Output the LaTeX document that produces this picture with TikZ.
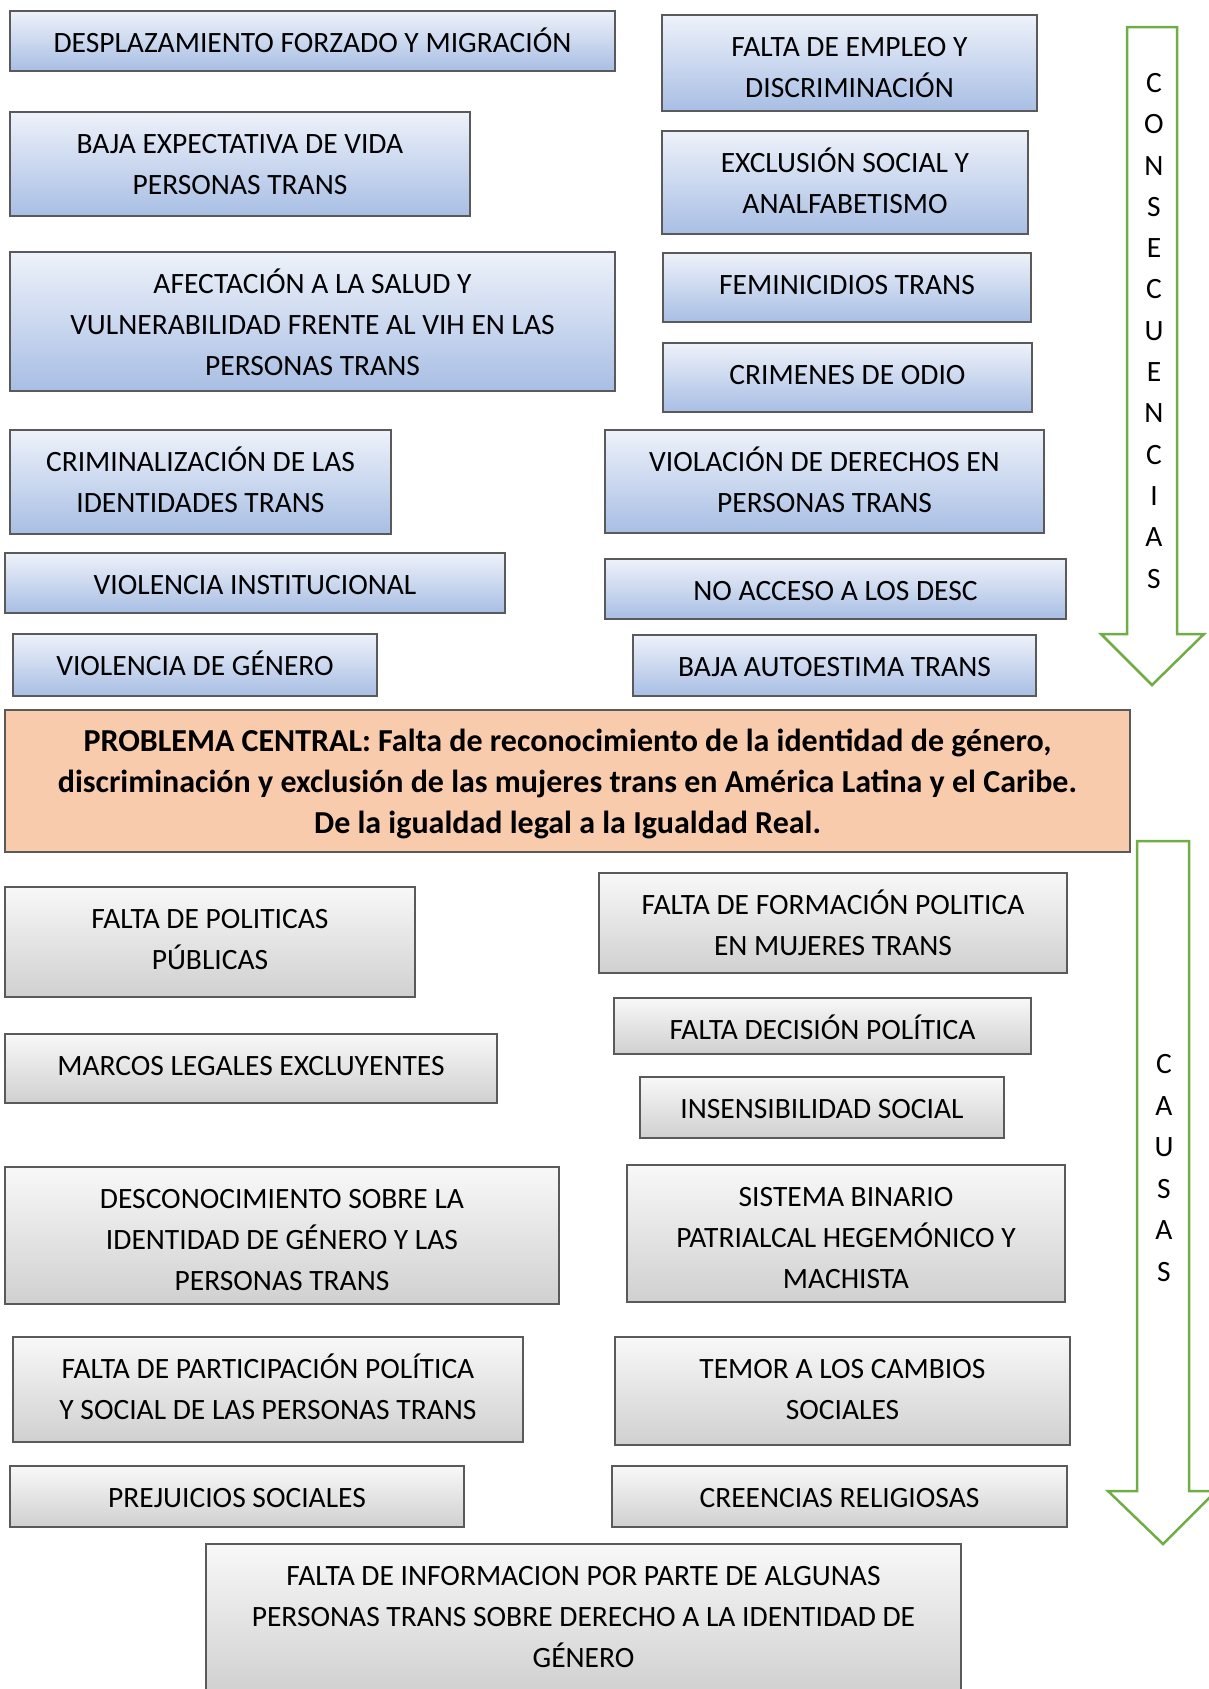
\documentclass[tikz,border=0pt]{standalone}
\usepackage{fontspec}
\setmainfont{Carlito}
\definecolor{boxline}{HTML}{5A5A5A}
\definecolor{bluetop}{HTML}{EEF2FA}
\definecolor{bluebot}{HTML}{A8BEE4}
\definecolor{graytop}{HTML}{F8F8F8}
\definecolor{graybot}{HTML}{D0D0D0}
\definecolor{salmon}{HTML}{F8CBAD}
\definecolor{arrowgreen}{HTML}{70AD47}
\tikzset{
  % width, height, lines: text sits at the top of each box, as in a text box
  caja/.style n args={3}{minimum width=#1, minimum height=#2,
    text height=30pt+41pt*(#3-1), text depth=#2pt-53pt-41pt*(#3-1)},
  cons/.style={draw=boxline, line width=1.2pt, top color=bluetop, bottom color=bluebot,
    align=center, inner sep=0pt, font=\fontsize{29.5}{41}\selectfont},
  causa/.style={cons, top color=graytop, bottom color=graybot},
  central/.style={draw=boxline, line width=1.2pt, fill=salmon, align=center, inner sep=0pt,
    font=\fontsize{32}{41}\selectfont\bfseries},
  letra/.style={font=\fontsize{29.5}{30}\selectfont, inner sep=0pt}
}
\begin{document}
\begin{tikzpicture}[x=1pt, y=-1pt]
\useasboundingbox (0,0) rectangle (1208,1689);

% consecuencias
\node[cons, caja={605}{60}{1}] (desplaz) at (312.5,41) {DESPLAZAMIENTO FORZADO Y MIGRACIÓN};
\node[cons, caja={460}{104}{2}] (expect) at (240,164) {BAJA EXPECTATIVA DE VIDA\\PERSONAS TRANS};
\node[cons, caja={605}{139}{3}] (salud) at (312.5,321.5) {AFECTACIÓN A LA SALUD Y\\VULNERABILIDAD FRENTE AL VIH EN LAS\\PERSONAS TRANS};
\node[cons, caja={381}{104}{2}] (crimin) at (200.5,482) {CRIMINALIZACIÓN DE LAS\\IDENTIDADES TRANS};
\node[cons, caja={500}{60}{1}] (instit) at (255,583) {VIOLENCIA INSTITUCIONAL};
\node[cons, caja={364}{62}{1}] (genero) at (195,665) {VIOLENCIA DE GÉNERO};

\node[cons, caja={375}{96}{2}] (empleo) at (849.5,63) {FALTA DE EMPLEO Y\\DISCRIMINACIÓN};
\node[cons, caja={366}{103}{2}] (exclus) at (845,182.5) {EXCLUSIÓN SOCIAL Y\\ANALFABETISMO};
\node[cons, caja={368}{69}{1}] (femin) at (847,287.5) {FEMINICIDIOS TRANS};
\node[cons, caja={369}{69}{1}] (odio) at (847.5,377.5) {CRIMENES DE ODIO};
\node[cons, caja={439}{103}{2}] (derechos) at (824.5,481.5) {VIOLACIÓN DE DERECHOS EN\\PERSONAS TRANS};
\node[cons, caja={461}{60}{1}] (desc) at (835.5,589) {NO ACCESO A LOS DESC};
\node[cons, caja={403}{61}{1}] (autoest) at (834.5,665.5) {BAJA AUTOESTIMA TRANS};

% problema central
\node[central, caja={1125}{142}{3}] (problema) at (567.5,781) {PROBLEMA CENTRAL: Falta de reconocimiento de la identidad de género,\\discriminación y exclusión de las mujeres trans en América Latina y el Caribe.\\De la igualdad legal a la Igualdad Real.};

% causas
\node[causa, caja={410}{110}{2}] (politicas) at (210,942) {FALTA DE POLITICAS\\PÚBLICAS};
\node[causa, caja={492}{69}{1}] (marcos) at (251,1068.5) {MARCOS LEGALES EXCLUYENTES};
\node[causa, caja={554}{137}{3}] (descon) at (282,1235.5) {DESCONOCIMIENTO SOBRE LA\\IDENTIDAD DE GÉNERO Y LAS\\PERSONAS TRANS};
\node[causa, caja={510}{105}{2}] (particip) at (268,1389.5) {FALTA DE PARTICIPACIÓN POLÍTICA\\Y SOCIAL DE LAS PERSONAS TRANS};
\node[causa, caja={454}{61}{1}] (prejuicios) at (237,1496.5) {PREJUICIOS SOCIALES};

\node[causa, caja={468}{100}{2}] (formacion) at (833,923) {FALTA DE FORMACIÓN POLITICA\\EN MUJERES TRANS};
\node[causa, caja={417}{56}{1}] (decision) at (822.5,1026) {FALTA DECISIÓN POLÍTICA};
\node[causa, caja={364}{61}{1}] (insens) at (822,1107.5) {INSENSIBILIDAD SOCIAL};
\node[causa, caja={438}{137}{3}] (binario) at (846,1233.5) {SISTEMA BINARIO\\PATRIALCAL HEGEMÓNICO Y\\MACHISTA};
\node[causa, caja={455}{108}{2}] (temor) at (842.5,1391) {TEMOR A LOS CAMBIOS\\SOCIALES};
\node[causa, caja={455}{61}{1}] (creencias) at (839.5,1496.5) {CREENCIAS RELIGIOSAS};
\node[causa, caja={755}{150}{3}] (informacion) at (583.5,1619) {FALTA DE INFORMACION POR PARTE DE ALGUNAS\\PERSONAS TRANS SOBRE DERECHO A LA IDENTIDAD DE\\GÉNERO};

% flechas
\draw[arrowgreen, line width=2.5pt, line join=miter, fill=white] (1127,27) -- (1177,27) -- (1177,634) -- (1204,634)
  -- (1152,685) -- (1101,634) -- (1127,634) -- cycle;
\draw[arrowgreen, line width=2.5pt, line join=miter, fill=white] (1137,841) -- (1189,841) -- (1189,1491) -- (1216,1491)
  -- (1163,1544) -- (1108,1491) -- (1137,1491) -- cycle;

\foreach \l [count=\i from 0] in {C,O,N,S,E,C,U,E,N,C,I,A,S}
  \node[letra] (con\i) at (1154,83+\i*41.3) {\l};
\foreach \l [count=\i from 0] in {C,A,U,S,A,S}
  \node[letra] (cau\i) at (1164,1064+\i*41.6) {\l};

\end{tikzpicture}
\end{document}
